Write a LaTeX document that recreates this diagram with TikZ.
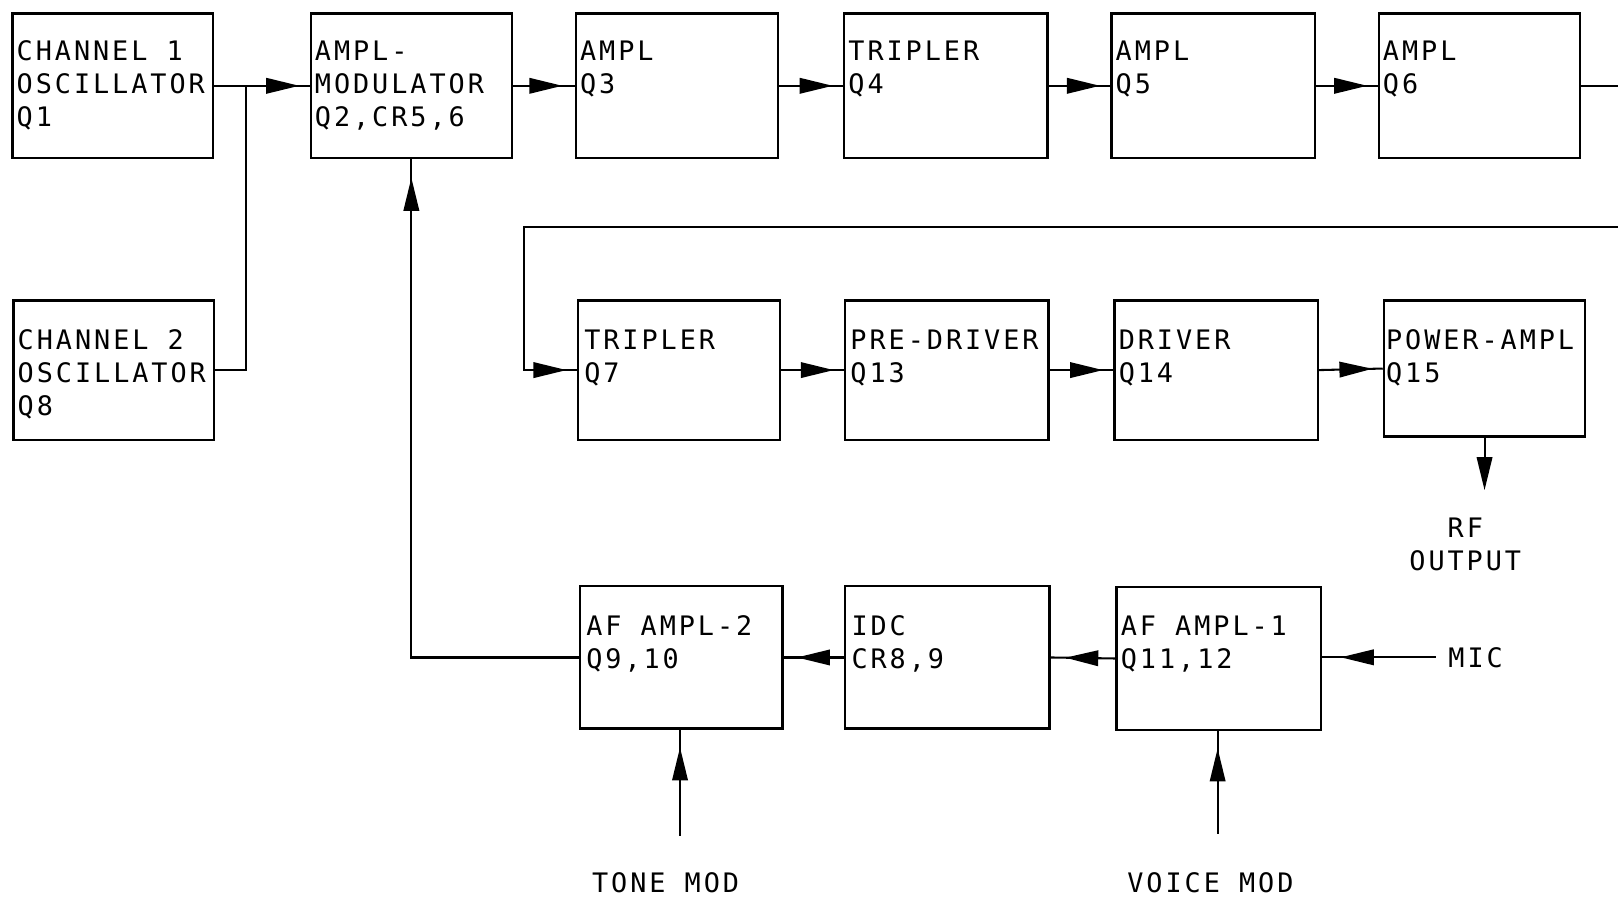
\documentclass[tikz,border=0pt]{standalone}
\usepackage{fontspec}
\newfontfamily\lgfont[LetterSpace=11]{DejaVu Sans Mono}
\usetikzlibrary{arrows.meta,decorations.markings,calc}
\tikzset{
  blk/.style={draw, line width=2.3pt, rectangle, anchor=north west, inner sep=0pt},
  lbl/.style={anchor=base west, inner sep=0pt, font=\lgfont\fontsize{26}{32}\selectfont},
  txt/.style={inner sep=0pt, align=center, font=\lgfont\fontsize{26}{32}\selectfont},
  conn/.style={line width=2pt},
  myarr/.tip={Triangle[length=32pt,width=15pt]},
  arrat/.style={postaction={decorate},decoration={markings, mark=at position -#1 with {\arrow{myarr}}}},
}
\newcommand{\lines}[1]{\begin{tabular}[t]{@{}l@{}}#1\end{tabular}}
\begin{document}
\begin{tikzpicture}[x=1pt,y=-1pt]
\useasboundingbox (0,0) rectangle (1568,869);
% row 1
\node[blk, minimum width=194pt, minimum height=140pt] (ch1) at (11,12) {};
\node[blk, minimum width=195pt, minimum height=140pt] (mod) at (300,12) {};
\node[blk, minimum width=196pt, minimum height=140pt] (q3) at (557,12) {};
\node[blk, minimum width=197pt, minimum height=140pt] (q4) at (817,12) {};
\node[blk, minimum width=197pt, minimum height=140pt] (q5) at (1076,12) {};
\node[blk, minimum width=195pt, minimum height=140pt] (q6) at (1335,12) {};
% row 2
\node[blk, minimum width=194pt, minimum height=135pt] (ch2) at (12,290) {};
\node[blk, minimum width=196pt, minimum height=135pt] (q7) at (559,290) {};
\node[blk, minimum width=197pt, minimum height=135pt] (q13) at (818,290) {};
\node[blk, minimum width=197pt, minimum height=135pt] (q14) at (1079,290) {};
\node[blk, minimum width=195pt, minimum height=132pt] (q15) at (1340,290) {};
% row 3
\node[blk, minimum width=196pt, minimum height=138pt] (af2) at (561,567) {};
\node[blk, minimum width=198pt, minimum height=138pt] (idc) at (818,567) {};
\node[blk, minimum width=198pt, minimum height=138pt] (af1) at (1081,568) {};
% labels
\node[lbl] (ch1t) at ([shift={(5,47)}]ch1.north west) {\lines{CHANNEL 1\\OSCILLATOR\\Q1}};
\node[lbl] (modt) at ([shift={(5,47)}]mod.north west) {\lines{AMPL-\\MODULATOR\\Q2,CR5,6}};
\node[lbl] (q3t) at ([shift={(5,47)}]q3.north west) {\lines{AMPL\\Q3}};
\node[lbl] (q4t) at ([shift={(5,47)}]q4.north west) {\lines{TRIPLER\\Q4}};
\node[lbl] (q5t) at ([shift={(5,47)}]q5.north west) {\lines{AMPL\\Q5}};
\node[lbl] (q6t) at ([shift={(5,47)}]q6.north west) {\lines{AMPL\\Q6}};
\node[lbl] (ch2t) at ([shift={(5,49)}]ch2.north west) {\lines{CHANNEL 2\\OSCILLATOR\\Q8}};
\node[lbl] (q7t) at ([shift={(7,49)}]q7.north west) {\lines{TRIPLER\\Q7}};
\node[lbl] (q13t) at ([shift={(6,49)}]q13.north west) {\lines{PRE-DRIVER\\Q13}};
\node[lbl] (q14t) at ([shift={(5,49)}]q14.north west) {\lines{DRIVER\\Q14}};
\node[lbl] (q15t) at ([shift={(3,49)}]q15.north west) {\lines{POWER-AMPL\\Q15}};
\node[lbl] (af2t) at ([shift={(7,49)}]af2.north west) {\lines{AF AMPL-2\\Q9,10}};
\node[lbl] (idct) at ([shift={(7,49)}]idc.north west) {\lines{IDC\\CR8,9}};
\node[lbl] (af1t) at ([shift={(5,48)}]af1.north west) {\lines{AF AMPL-1\\Q11,12}};
% free texts
\node[txt] (rf) at (1420,528) {RF\\OUTPUT};
\node[txt, inner xsep=12pt] (mic) at (1430,637) {MIC};
\node[txt] (tone) at (645,855) {TONE MOD};
\node[txt] (voice) at (1173,855) {VOICE MOD};
% coordinates
\coordinate (j) at (238,82);
\coordinate (e1) at (1568,82);
\coordinate (e2) at (1568,220);
\coordinate (k) at (508,220);
\coordinate (rfend) at (1437.5,475);
\coordinate (tm) at (659,810);
\coordinate (vm) at (1180,808);
% connectors row 1
\draw[conn, arrat=10pt] (ch1.east) -- (mod.west);
\draw[conn] (ch2.east) -| (j);
\draw[conn, arrat=12pt] (mod.east) -- (q3.west);
\draw[conn, arrat=10pt] (q3.east) -- (q4.west);
\draw[conn, arrat=10pt] (q4.east) -- (q5.west);
\draw[conn, arrat=10pt] (q5.east) -- (q6.west);
\draw[conn] (q6.east) -- (q6.east -| e1);
% row 2
\draw[conn, arrat=10pt] (e2) -- (k) |- (q7.west);
\draw[conn, arrat=10pt] (q7.east) -- (q13.west);
\draw[conn, arrat=10pt] (q13.east) -- (q14.west);
\draw[conn, arrat=10pt] (q14.east) -- (q15.west);
\draw[conn, -{myarr}] (q15.south) -- (q15.south |- rfend);
% row 3
\draw[conn, arrat=18pt] (mic.west) -- (mic.west -| af1.east);
\draw[conn, arrat=14pt] (af1.west) -- (idc.east);
\draw[conn, arrat=13pt] (idc.west) -- (af2.east);
\draw[conn, arrat=18pt] (af2.west) -| (mod.south);
\draw[conn, arrat=17pt] (tm) -- (tm |- af2.south);
\draw[conn, arrat=17pt] (vm) -- (vm |- af1.south);
\end{tikzpicture}
\end{document}
